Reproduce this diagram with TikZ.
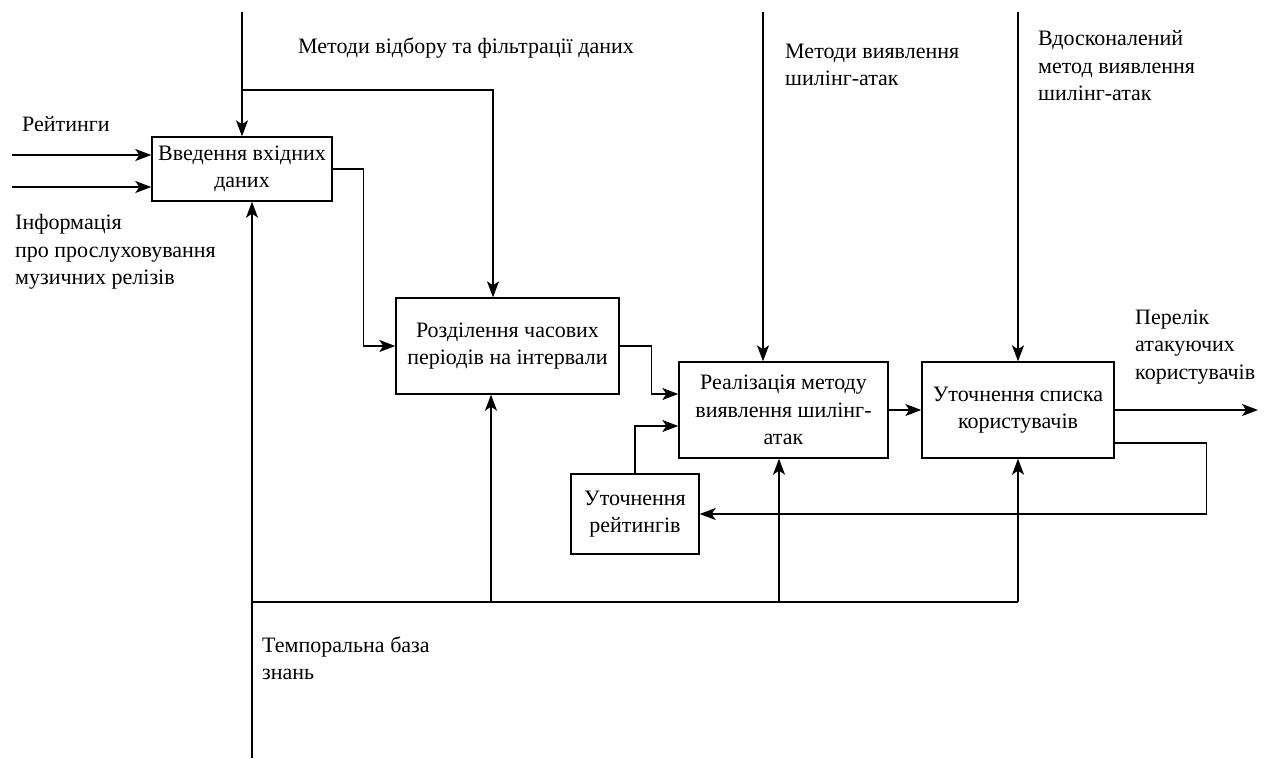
\documentclass[tikz,border=0pt]{standalone}
\usepackage{fontspec}
\setmainfont{Liberation Serif}
\usetikzlibrary{arrows.meta,calc}
\begin{document}
\begin{tikzpicture}[x=1pt,y=-1pt,
  every node/.style={font=\fontsize{22}{27.5}\selectfont},
  box/.style={draw,line width=1.4pt,align=center,inner sep=2pt},
  lbl/.style={anchor=west,align=left,inner sep=0pt},
  ln/.style={line width=1.4pt},
  arr/.style={line width=1.4pt,-{Stealth[length=16pt,width=12pt,inset=4pt]}}]
\useasboundingbox (0,0) rectangle (1268,758);
% boxes
\node[box,minimum width=180pt,minimum height=64pt] (b1) at (242,169) {Введення вхідних\\даних};
\node[box,minimum width=223pt,minimum height=96pt] (b2) at (507.5,346) {Розділення часових\\періодів на інтервали};
\node[box,minimum width=209pt,minimum height=96pt] (b3) at (783.5,410) {Реалізація методу\\виявлення шилінг-\\атак};
\node[box,minimum width=128pt,minimum height=80pt] (b4) at (635,514) {Уточнення\\рейтингів};
\node[box,minimum width=192pt,minimum height=96pt] (b5) at (1018,410) {Уточнення списка\\користувачів};
% labels
\node[lbl] (l1) at (22,124) {Рейтинги};
\node[lbl] (l2) at (15,252) {Інформація\\про прослуховування\\музичних релізів};
\node[lbl] (l3) at (298,48) {Методи відбору та фільтрації даних};
\node[lbl] (l4) at (785,65) {Методи виявлення\\шилінг-атак};
\node[lbl] (l5) at (1038,66) {Вдосконалений\\метод виявлення\\шилінг-атак};
\node[lbl] (l6) at (1135,347) {Перелік\\атакуючих\\користувачів};
\node[lbl] (l7) at (262,658) {Темпоральна база\\знань};
% coordinates
\coordinate (in1) at (12,155);
\coordinate (in2) at (12,187);
\coordinate (t1) at (242,12);
\coordinate (j1) at (242,90);
\coordinate (t3) at (763,12);
\coordinate (t5) at (1018,12);
\coordinate (kb) at (252,758);
\coordinate (kj) at (252,602);
\coordinate (ke) at (1018,602);
\coordinate (out) at (1258,410);
\coordinate (b1s) at ([xshift=10pt]b1.south);
\coordinate (b2n) at ([xshift=-14.5pt]b2.north);
\coordinate (b2s) at ([xshift=-16.5pt]b2.south);
\coordinate (b3n) at ([xshift=-20.5pt]b3.north);
\coordinate (b3s) at ([xshift=-4.5pt]b3.south);
% inputs
\draw[arr] (in1) -- ([yshift=14pt]b1.west);
\draw[arr] (in2) -- ([yshift=-18pt]b1.west);
% controls
\draw[arr] (t1) -- (b1.north);
\draw[arr] (j1) -| (b2n);
\draw[arr] (t3) -- (b3n);
\draw[arr] (t5) -- (b5.north);
% flow
\draw[arr] (b1.east) -- ++(31,0) |- (b2.west);
\draw[arr] (b2.east) -- ++(32,0) |- ([yshift=16pt]b3.west);
\draw[arr] (b4.north) |- ([yshift=-16pt]b3.west);
\draw[arr] (b3.east) -- (b5.west);
\draw[arr] (b5.east) -- (out);
\draw[arr] ([yshift=-33pt]b5.east) -- ++(92,0) |- (b4.east);
% mechanism
\draw[arr] (kb) -- (b1s);
\draw[ln] (kj) -- (ke);
\draw[arr] (kj -| b2s) -- (b2s);
\draw[arr] (kj -| b3s) -- (b3s);
\draw[arr] (ke) -- (b5.south);
\end{tikzpicture}
\end{document}
